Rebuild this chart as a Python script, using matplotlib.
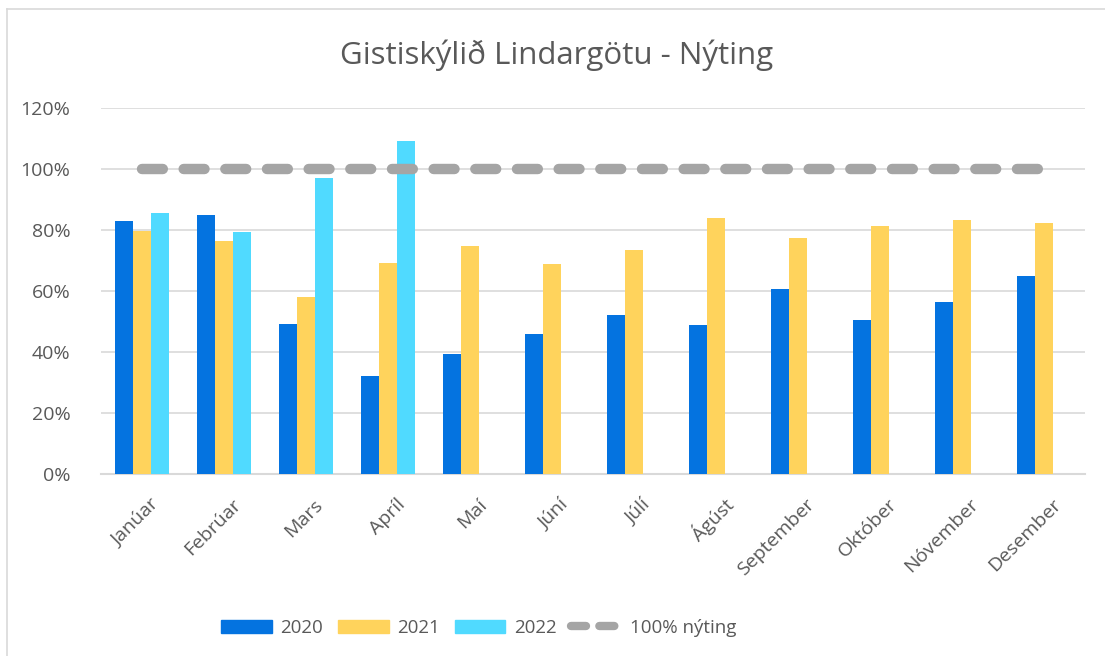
import numpy as np
import matplotlib
matplotlib.use('Agg')
import matplotlib.pyplot as plt
import matplotlib.transforms as mtransforms
from matplotlib.lines import Line2D

plt.rcParams['font.family'] = ['Open Sans', 'DejaVu Sans']

# data (occupancy in %)
months = ['Janúar', 'Febrúar', 'Mars', 'Apríl', 'Maí', 'Júní',
          'Júlí', 'Ágúst', 'September', 'Október', 'Nóvember', 'Desember']
y2020 = [82.9, 84.8, 49.3, 32.1, 39.3, 45.9, 52.1, 49.0, 60.6, 50.6, 56.3, 64.8]
y2021 = [79.6, 76.4, 57.9, 69.2, 74.9, 68.9, 73.4, 83.8, 77.3, 81.3, 83.3, 82.3]
y2022 = [85.7, 79.4, 97.0, 109.2, np.nan, np.nan, np.nan, np.nan, np.nan, np.nan, np.nan, np.nan]
target = [100] * 12
series_names = ['2020', '2021', '2022', '100% nýting']

c2020 = '#0473E0'
c2021 = '#FFD35C'
c2022 = '#50DAFF'
cline = '#A5A5A5'
txt = '#595959'
grid = '#D9D9D9'

W, H = 1105, 656
fig = plt.figure(figsize=(W / 100, H / 100), dpi=100)
ax = fig.add_axes([101 / W, 1 - 474 / H, 984 / W, 366 / H])

x = np.arange(len(months))
bw = 0.22
ax.bar(x - bw, np.array(y2020) / 100, bw, color=c2020, linewidth=0, zorder=3)
ax.bar(x, np.array(y2021) / 100, bw, color=c2021, linewidth=0, zorder=3)
ax.bar(x + bw, np.array(y2022) / 100, bw, color=c2022, linewidth=0, zorder=3)
ax.plot(x, np.array(target) / 100, color=cline, lw=7.5, linestyle=(0, (2, 2)),
        dash_capstyle='round', zorder=4)

ax.set_xlim(-0.5, len(months) - 0.5)
ax.set_ylim(0, 1.2)
ax.set_yticks(np.arange(0, 1.21, 0.2))
ax.set_yticklabels([f'{int(round(v * 100))}%' for v in np.arange(0, 1.21, 0.2)])
ax.yaxis.grid(True, color=grid, lw=1.2, zorder=0)
for s in ['top', 'right', 'left']:
    ax.spines[s].set_visible(False)
ax.spines['bottom'].set_color(grid)
ax.spines['bottom'].set_linewidth(1.5)
ax.tick_params(axis='both', length=0, labelsize=14, labelcolor=txt)
ax.tick_params(axis='y', pad=22)

ax.set_xticks(x)
ax.set_xticklabels(months, rotation=45, ha='right', va='center', rotation_mode='anchor')
offset = mtransforms.ScaledTranslation(14 / 100, -23 / 100, fig.dpi_scale_trans)
for lab in ax.get_xticklabels():
    lab.set_transform(lab.get_transform() + offset)

fig.text(557 / W, 1 - 55 / H, 'Gistiskýlið Lindargötu - Nýting', ha='center', va='center',
         fontsize=22.5, color=txt)

handles = [plt.Rectangle((0, 0), 1, 1, color=c2020),
           plt.Rectangle((0, 0), 1, 1, color=c2021),
           plt.Rectangle((0, 0), 1, 1, color=c2022),
           Line2D([0], [0], color=cline, lw=6, linestyle=(0, (1.8, 1.6)), dash_capstyle='round')]
fig.legend(handles, series_names, loc='center', bbox_to_anchor=(479 / W, 1 - 628 / H),
           ncol=4, frameon=False, fontsize=13.5, labelcolor=txt, handlelength=2.7,
           handleheight=0.7, handletextpad=0.45, columnspacing=0.8)

# chart area border (left and top only visible in the crop)
fig.add_artist(Line2D([7 / W, 7 / W], [0, 1 - 9 / H], transform=fig.transFigure, color=grid, lw=1.2))
fig.add_artist(Line2D([7 / W, 1], [1 - 9 / H, 1 - 9 / H], transform=fig.transFigure, color=grid, lw=1.2))

fig.savefig('out.png', dpi=100)
